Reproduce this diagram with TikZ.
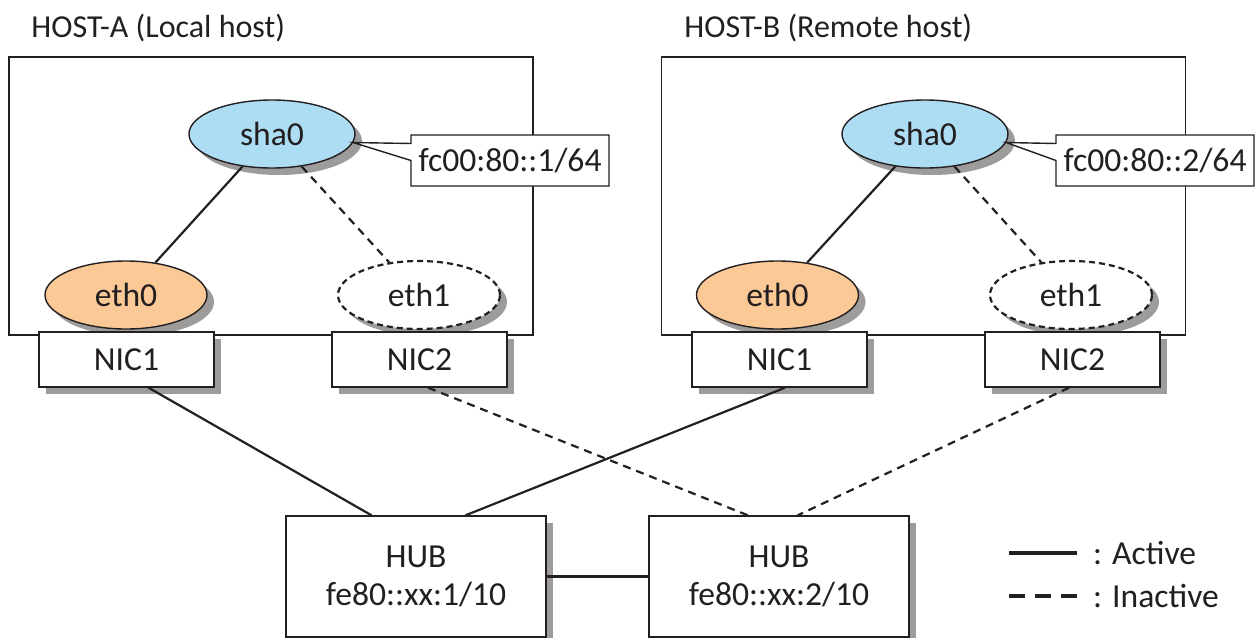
\documentclass[tikz,border=0pt]{standalone}
\usepackage{fontspec}
\setmainfont{Carlito}
\usepackage{tikz}
\usetikzlibrary{shapes.geometric, shapes.callouts, shadows}

\definecolor{shablue}{RGB}{172,221,243}
\definecolor{ethorange}{RGB}{250,201,150}
\definecolor{inkline}{RGB}{35,31,32}
\definecolor{shadowgray}{RGB}{158,155,155}

\begin{document}
\begin{tikzpicture}[x=0.5pt, y=-0.5pt, font=\fontsize{16.8}{19}\selectfont,
	every node/.style={text=inkline},
	titletext/.style={anchor=base west, inner sep=0pt, font=\fontsize{16}{19}\selectfont},
	boxshadow/.style={drop shadow={shadow xshift=3.5pt, shadow yshift=-3.5pt, fill=shadowgray, opacity=1}},
	hostbox/.style={draw=inkline, line width=0.7pt, minimum width=262pt, minimum height=139pt},
	ifnode/.style={ellipse, draw=inkline, line width=0.7pt, minimum width=81pt, minimum height=34pt, inner sep=0pt, boxshadow},
	nicbox/.style={draw=inkline, line width=0.7pt, fill=white, minimum width=87.5pt, minimum height=27.5pt, boxshadow},
	hubbox/.style={draw=inkline, line width=0.7pt, fill=white, minimum width=130pt, minimum height=60.5pt, align=center, boxshadow},
	addrbox/.style={rectangle callout, draw=inkline, line width=0.7pt, fill=white, minimum width=99pt, minimum height=25.5pt, callout pointer width=8.5pt},
	active/.style={draw=inkline, line width=1.1pt},
	inactive/.style={draw=inkline, line width=1.1pt, dash pattern=on 4pt off 3pt}]

	\useasboundingbox (0,0) rectangle (1255,638);

	\node[titletext] (titleA) at (31,37) {HOST-A (Local host)};
	\node[titletext] (titleB) at (684,37) {HOST-B (Remote host)};

	\node[hostbox] (hostA) at (271,196) {};
	\node[hostbox] (hostB) at (923.5,196) {};

	\node[ifnode, fill=shablue, minimum width=83pt] (shaA) at (272,134) {sha0};
	\node[ifnode, fill=ethorange] (ethA0) at (126,295) {eth0};
	\node[ifnode, fill=white, dash pattern=on 3pt off 2pt, line width=1.1pt] (ethA1) at (419,295) {eth1};
	\node[nicbox] (nicA1) at (126.5,359.5) {NIC1};
	\node[nicbox] (nicA2) at (419.5,359.5) {NIC2};
	\node[addrbox, callout absolute pointer={(shaA.-6)}] (addrA) at (510,160.5) {fc00:80::1/64};

	\node[ifnode, fill=shablue, minimum width=83pt] (shaB) at (925,134) {sha0};
	\node[ifnode, fill=ethorange] (ethB0) at (777.5,295) {eth0};
	\node[ifnode, fill=white, dash pattern=on 3pt off 2pt, line width=1.1pt] (ethB1) at (1071,295) {eth1};
	\node[nicbox] (nicB1) at (779.5,359.5) {NIC1};
	\node[nicbox] (nicB2) at (1072.5,359.5) {NIC2};
	\node[addrbox, callout absolute pointer={(shaB.-6)}] (addrB) at (1155,160.5) {fc00:80::2/64};

	\node[hubbox] (hubA) at (416,576.5) {HUB\\fe80::xx:1/10};
	\node[hubbox] (hubB) at (779,576.5) {HUB\\fe80::xx:2/10};

	\draw[active] (shaA) -- (ethA0);
	\draw[inactive] (shaA) -- (ethA1);
	\draw[active] (shaB) -- (ethB0);
	\draw[inactive] (shaB) -- (ethB1);

	\draw[active] (nicA1.-52) -- (hubA.126);
	\draw[inactive] (nicA2.-73) -- (hubB.117);
	\draw[active] (nicB1.-79) -- (hubA.51);
	\draw[inactive] (nicB2.-97) -- (hubB.73);
	\draw[active] (hubA.east) -- (hubB.west);

	\coordinate (actS) at (1009,553);
	\coordinate (actE) at (1077,553);
	\coordinate (inaS) at (1009,596);
	\coordinate (inaE) at (1077,596);
	\draw[draw=inkline, line width=2pt] (actS) -- (actE);
	\draw[draw=inkline, line width=2pt, dash pattern=on 8pt off 5pt] (inaS) -- (inaE);
	\node[anchor=west] (actlbl) at (1086,553) {: Active};
	\node[anchor=west] (inalbl) at (1086,596) {: Inactive};
\end{tikzpicture}
\end{document}
